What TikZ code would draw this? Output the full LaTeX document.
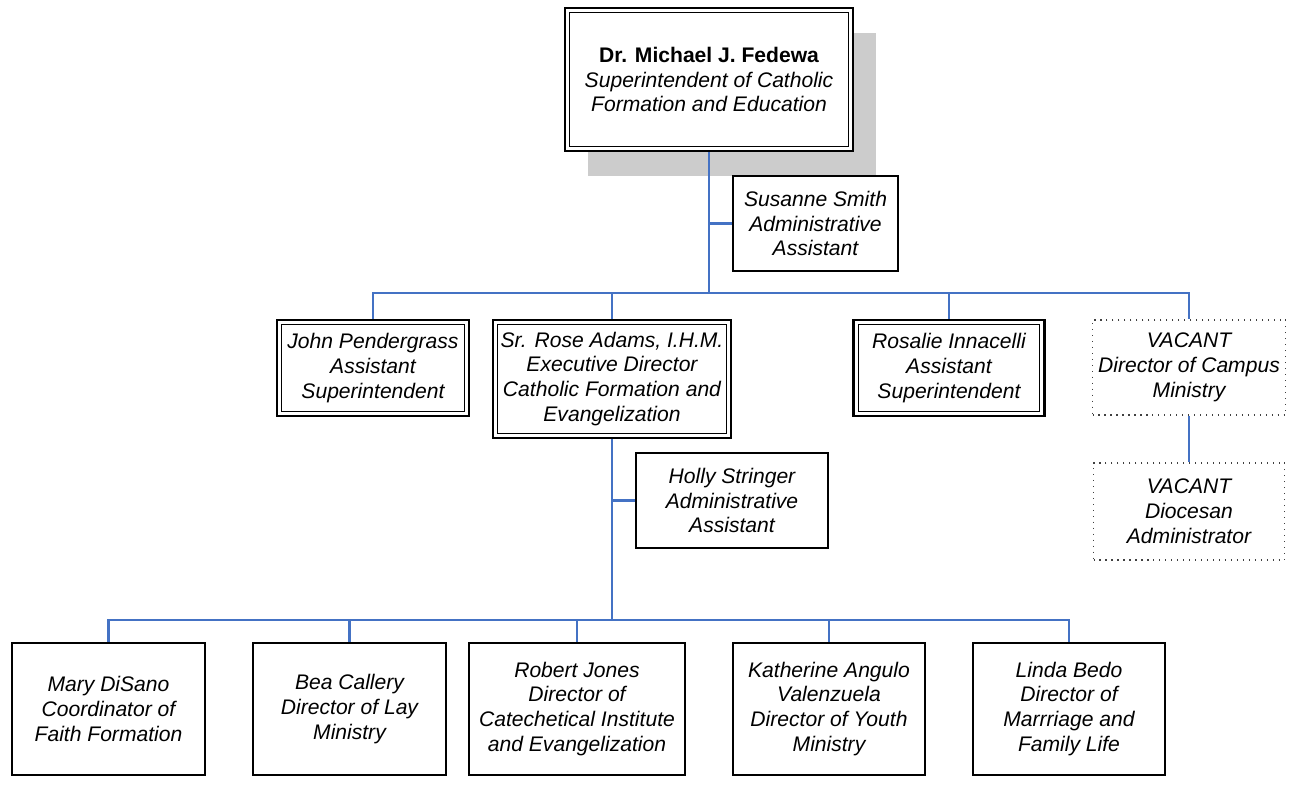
\documentclass[tikz,border=0pt]{standalone}
\usepackage{fontspec}
\setmainfont{Liberation Sans}
\usepackage{tikz}
\usetikzlibrary{shadows}

\definecolor{linkblue}{RGB}{68,114,196}

\begin{document}
\begin{tikzpicture}[font=\fontsize{12}{14.2}\selectfont\itshape]
      \tikzstyle{box}=[rectangle,draw=black,fill=white,line width=1.1pt,align=center,inner sep=1pt]
      \tikzstyle{dbox}=[box,line width=1.2pt,path picture={\draw[line width=0.6pt] ([shift={(2.8pt,2.8pt)}]path picture bounding box.south west) rectangle ([shift={(-2.8pt,-2.8pt)}]path picture bounding box.north east);}]
      \tikzstyle{vacant}=[rectangle,draw=black!75,fill=white,line width=0.6pt,dash pattern=on 0.7pt off 2.7pt,align=center,inner sep=1pt]
      \tikzstyle{link}=[draw=linkblue,line width=1.2pt]
      \useasboundingbox (0,0) rectangle (25.8,-15.7);
      % top
      \node[dbox,minimum width=5.76cm,minimum height=2.86cm,
        drop shadow={shadow xshift=0.46cm,shadow yshift=-0.5cm,fill=black!20,opacity=1}]
        (fedewa) at (14.18,-1.59) {{\bfseries\upshape Dr. Michael J. Fedewa}\\Superintendent of Catholic\\Formation and Education};
      \node[box,minimum width=3.30cm,minimum height=1.90cm] (smith) at (16.31,-4.47) {Susanne Smith\\Administrative\\Assistant};
      \coordinate (bar1) at (14.18,-5.86);
      % second row
      \node[dbox,minimum width=3.84cm,minimum height=1.92cm] (pendergrass) at (7.46,-7.36) {John Pendergrass\\Assistant\\Superintendent};
      \node[dbox,minimum width=4.76cm,minimum height=2.36cm] (adams) at (12.24,-7.58) {Sr. Rose Adams, I.H.M.\\Executive Director\\Catholic Formation and\\Evangelization};
      \node[dbox,minimum width=3.82cm,minimum height=1.92cm] (innacelli) at (18.98,-7.36) {Rosalie Innacelli\\Assistant\\Superintendent};
      \node[vacant,minimum width=3.86cm,minimum height=1.90cm] (campus) at (23.78,-7.35) {VACANT\\Director of Campus\\Ministry};
      \node[vacant,minimum width=3.82cm,minimum height=1.94cm] (diocesan) at (23.78,-10.23) {VACANT\\Diocesan\\Administrator};
      \node[box,minimum width=3.84cm,minimum height=1.90cm] (stringer) at (14.64,-10.01) {Holly Stringer\\Administrative\\Assistant};
      \coordinate (bar2) at (12.24,-12.40);
      % bottom row
      \node[box,minimum width=3.86cm,minimum height=2.64cm] (disano) at (2.17,-14.18) {Mary DiSano\\Coordinator of\\Faith Formation};
      \node[box,minimum width=3.86cm,minimum height=2.64cm] (callery) at (6.99,-14.18) {Bea Callery\\Director of Lay\\Ministry};
      \node[box,minimum width=4.32cm,minimum height=2.64cm] (jones) at (11.54,-14.18) {Robert Jones\\Director of\\Catechetical Institute\\and Evangelization};
      \node[box,minimum width=3.84cm,minimum height=2.64cm] (angulo) at (16.58,-14.18) {Katherine Angulo\\Valenzuela\\Director of Youth\\Ministry};
      \node[box,minimum width=3.84cm,minimum height=2.64cm] (bedo) at (21.38,-14.18) {Linda Bedo\\Director of\\Marrriage and\\Family Life};
      % connectors
      \draw[link] (fedewa) -- (bar1);
      \draw[link] (smith) -| (fedewa);
      \draw[link] (bar1) -| (pendergrass);
      \draw[link] (bar1) -| (adams);
      \draw[link] (bar1) -| (innacelli);
      \draw[link] (bar1) -| (campus);
      \draw[link] (campus) -- (diocesan);
      \draw[link] (adams) -- (bar2);
      \draw[link] (stringer) -| (adams);
      \draw[link] (bar2) -| (disano);
      \draw[link] (bar2) -| (callery);
      \draw[link] (bar2) -| (jones);
      \draw[link] (bar2) -| (angulo);
      \draw[link] (bar2) -| (bedo);
\end{tikzpicture}
\end{document}
